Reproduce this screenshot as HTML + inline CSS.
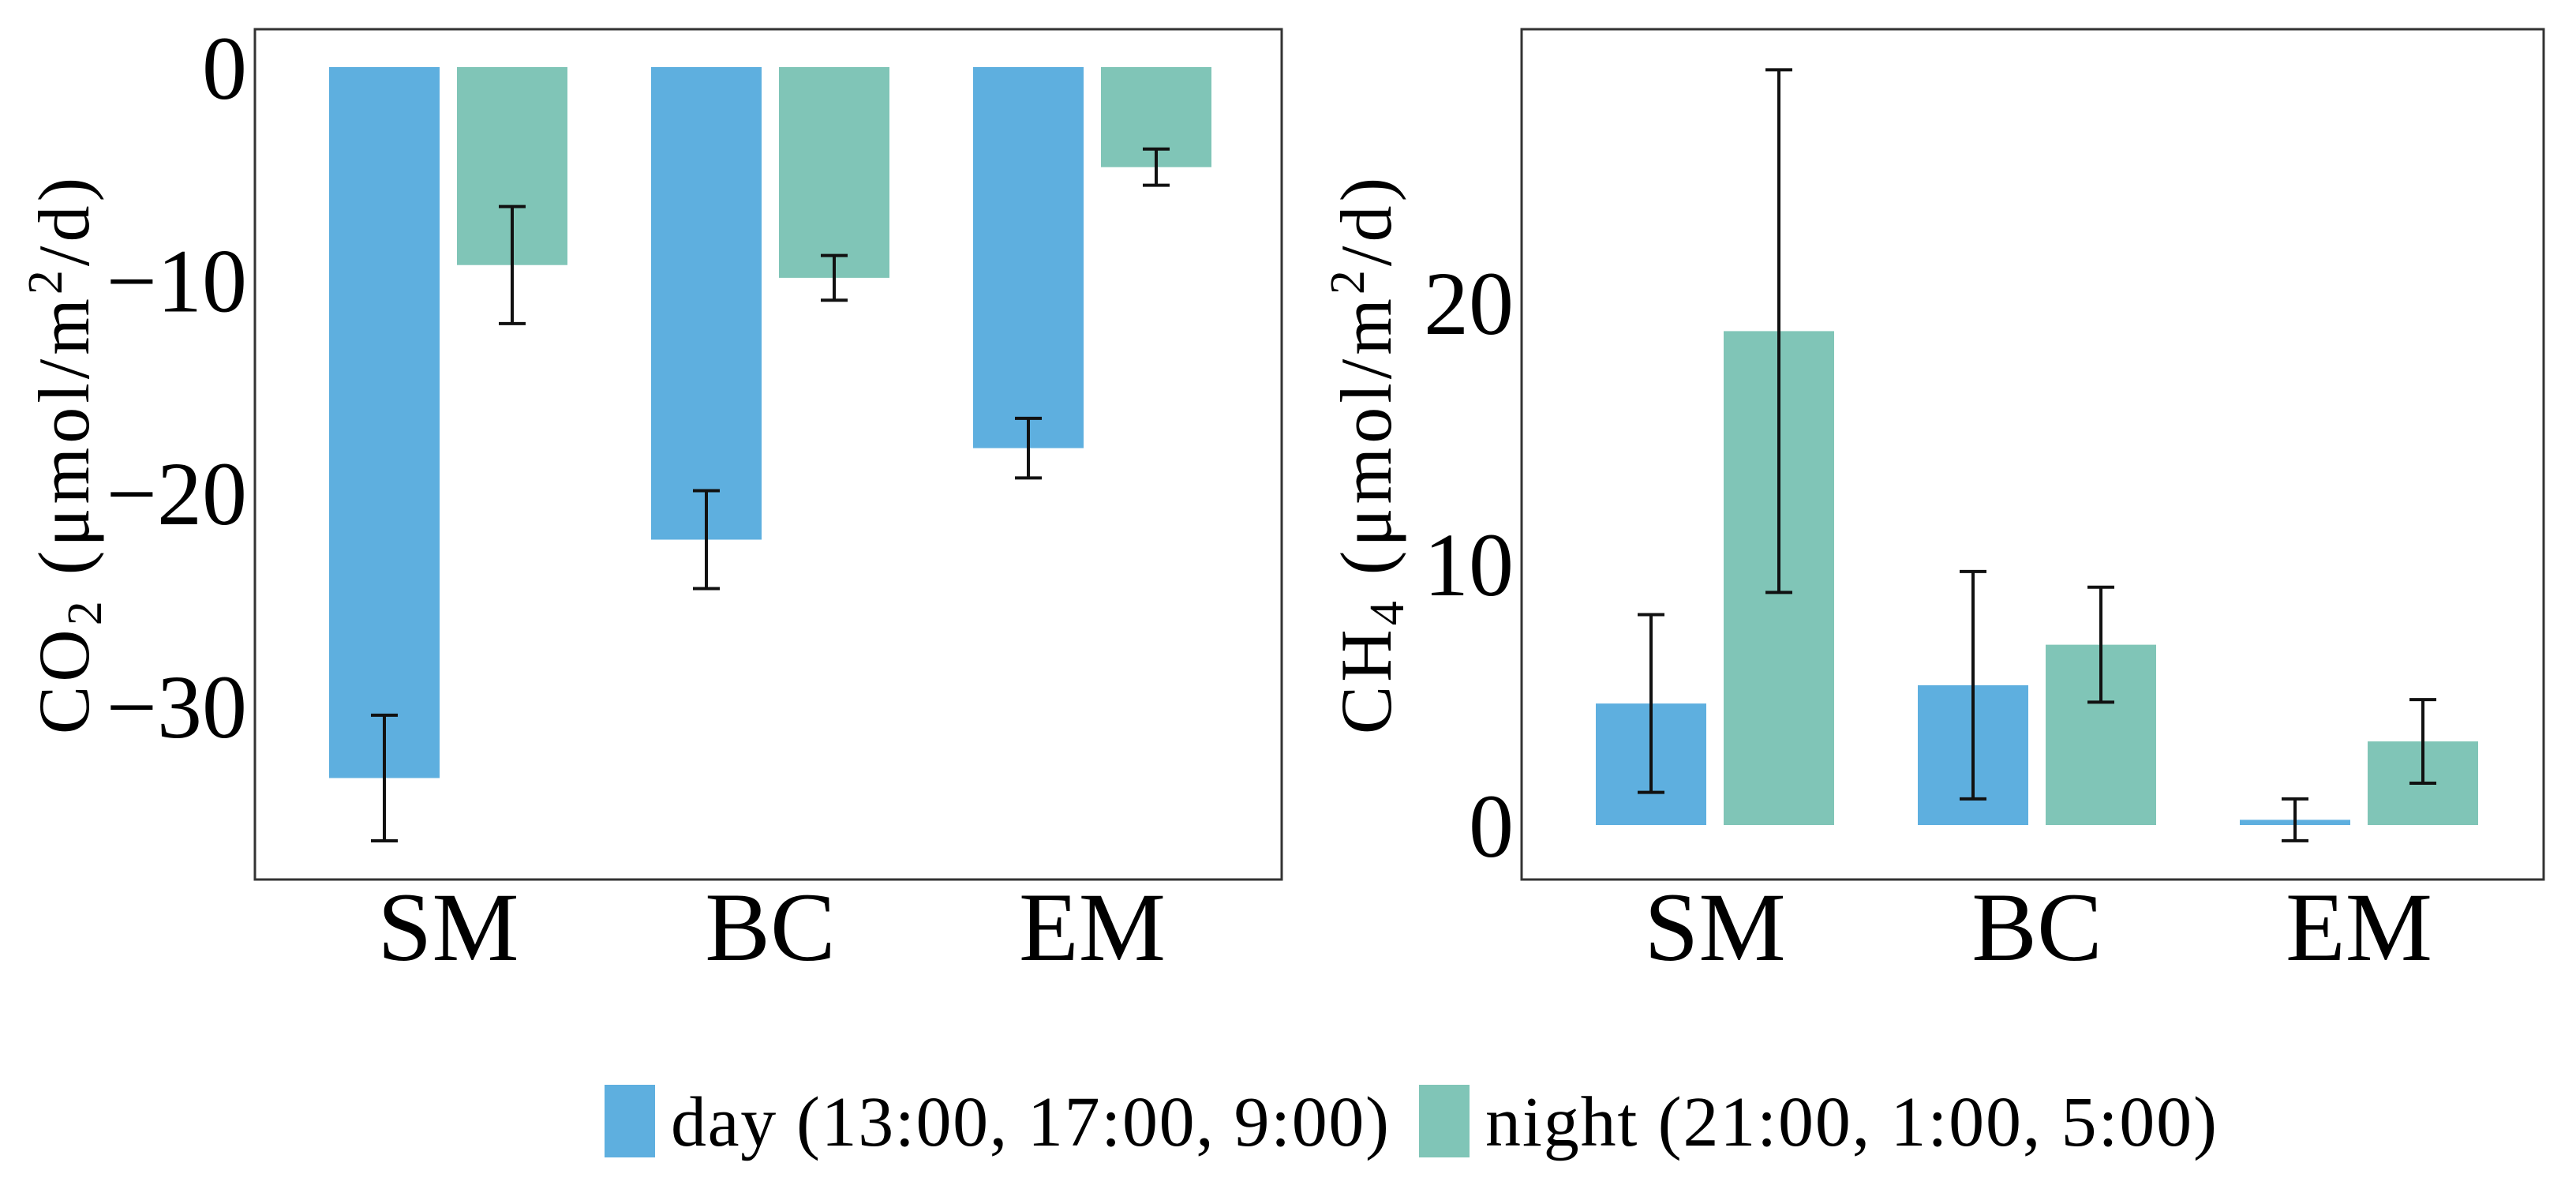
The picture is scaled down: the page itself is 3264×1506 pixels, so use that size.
<!DOCTYPE html>
<html><head><meta charset="utf-8"><style>
html,body{margin:0;padding:0;background:#fff;width:3264px;height:1506px;overflow:hidden}
text{font-family:"Liberation Serif",serif;fill:#000}
</style></head><body>
<svg id="chart" width="3264" height="1506" viewBox="0 0 3264 1506" xmlns="http://www.w3.org/2000/svg"></svg>
<script>
const categories = ["SM","BC","EM"];
const co2Day = [-33.4,-22.2,-17.9];
const co2DayErr = [2.95,2.3,1.4];
const co2Night = [-9.3,-9.9,-4.7];
const co2NightErr = [2.75,1.05,0.85];
const ch4Day = [4.65,5.35,0.2];
const ch4DayErr = [3.4,4.35,0.8];
const ch4Night = [18.9,6.9,3.2];
const ch4NightErr = [10.0,2.2,1.6];
const co2Ticks = [0,-10,-20,-30];
const ch4Ticks = [0,10,20];
const seriesColors = ["#5eafdf","#80c5b7"];
const legendLabels = ["day (13:00, 17:00, 9:00)","night (21:00, 1:00, 5:00)"];

const svg = document.getElementById('chart');
const NS = "http://www.w3.org/2000/svg";
function mk(tag, attrs, parent){
  const e = document.createElementNS(NS, tag);
  for (const k in attrs) e.setAttribute(k, attrs[k]);
  (parent||svg).appendChild(e);
  return e;
}

function panel(cfg){
  const g = mk('g', {});
  
  
  const y = v => cfg.zeroY - v * cfg.pxPerUnit;
  const frame = mk('rect', {x:cfg.x0, y:37, width:cfg.x1-cfg.x0, height:1077, fill:'none', stroke:'#333', 'stroke-width':3}, g);
  
  
  const barW = 140, gap = 22;
  const step = 408;
  categories.forEach((c,i)=>{
    const cx = cfg.c0 + step*i;
    const series = [[cfg.day[i],cfg.dayErr[i]],[cfg.night[i],cfg.nightErr[i]]];
    series.forEach((s,j)=>{
      const bx = j===0 ? cx - gap/2 - barW : cx + gap/2;
      const y0 = y(0), y1 = y(s[0]);
      const top = Math.min(y0,y1), h = Math.max(Math.abs(y1-y0), 4);
      const r = mk('rect', {x:bx, y:top, width:barW, height:h, fill:seriesColors[j]}, g);
      
      
      const ex = bx + barW/2;
      const ya = y(s[0]+s[1]), yb = y(s[0]-s[1]);
      const eg = mk('g', {stroke:'#111','stroke-width':4}, g);
      
      
      mk('line', {x1:ex, x2:ex, y1:ya, y2:yb}, eg);
      mk('line', {x1:ex-17, x2:ex+17, y1:ya, y2:ya}, eg);
      mk('line', {x1:ex-17, x2:ex+17, y1:yb, y2:yb}, eg);
    });
    const t = mk('text', {x:cx, y:1216, 'text-anchor':'middle', 'font-size':124}, g);
    t.textContent = c;
    
    
  });
  cfg.ticks.forEach(v=>{
    const t = mk('text', {x:cfg.x0-10, y:y(v)+40, 'text-anchor':'end', 'font-size':114}, g);
    t.textContent = v<0 ? '\u2212'+Math.abs(v) : String(v);
    
    
  });
  const tt = mk('text', {transform:`translate(${cfg.titleX},575) rotate(-90)`, 'text-anchor':'middle', 'font-size':92, 'letter-spacing':5}, g);
  
  
  tt.innerHTML = cfg.gas + '<tspan font-size="62" dy="16">' + cfg.sub + '</tspan><tspan dy="-16"> (μmol/m</tspan><tspan font-size="62" dy="-34">2</tspan><tspan dy="34">/d)</tspan>';
}

panel({name:'co2-panel', x0:323, x1:1624, c0:568, zeroY:85, pxPerUnit:26.96, day:co2Day, dayErr:co2DayErr, night:co2Night, nightErr:co2NightErr, ticks:co2Ticks, titleX:112, gas:'CO', sub:'2'});
panel({name:'ch4-panel', x0:1928, x1:3223, c0:2173, zeroY:1045, pxPerUnit:33.1, day:ch4Day, dayErr:ch4DayErr, night:ch4Night, nightErr:ch4NightErr, ticks:ch4Ticks, titleX:1762, gas:'CH', sub:'4'});

const lg = mk('g', {});


const lx = [766, 1798];
legendLabels.forEach((l,i)=>{
  const r = mk('rect', {x:lx[i], y:1374, width:64, height:92, fill:seriesColors[i]}, lg);
  
  
  const t = mk('text', {x:lx[i]+84, y:1451, 'font-size':90, textLength: i===0 ? 910 : 927}, lg);
  t.textContent = l;
  
  
});
</script>
</body></html>
